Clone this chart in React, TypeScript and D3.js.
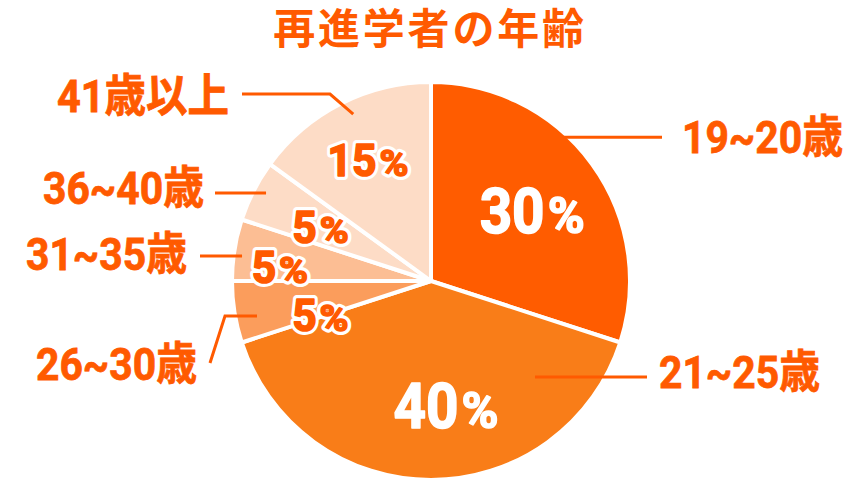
import React from 'react';
import * as d3 from 'd3';

// 再進学者の年齢 (age of re-entering students)
const categories = ['19~20歳', '21~25歳', '26~30歳', '31~35歳', '36~40歳', '41歳以上'];
const values = [30, 40, 5, 5, 5, 15];
const colors = ['#FF5C00', '#F97D18', '#FB9D5C', '#FCBE94', '#FDDCC6', '#FDDCC6'];

const TITLE = '再進学者の年齢';
const ORANGE = '#FF5A00';

const WIDTH = 860;
const HEIGHT = 490;
const CX = 431;
const CY = 281;
const R = 199;

// percent label placement: radius along slice mid angle + nudge
const pctLayout = [
  { r: 125, dx: 0, dy: 3, big: true },
  { r: 124, dx: 15, dy: 0, big: true },
  { r: 112, dx: 0, dy: 16, big: false },
  { r: 153, dx: 0, dy: 9, big: false },
  { r: 124, dx: 0, dy: 2, big: false },
  { r: 139, dx: 0, dy: 2, big: false },
];

// leader lines: start on slice at (angle deg, radius), then points, then label
const leaderLayout = [
  { a: 42.5, r: 195, pts: [[662, null]], lx: 682, ly: 153, anchor: 'start' },
  { a: 132.7, r: 141.5, pts: [[647, null]], lx: 659, ly: 388, anchor: 'start' },
  { a: 258.6, r: 177.5, pts: [[225, null], [210, 363]], lx: 197, ly: 380, anchor: 'end' },
  { a: 277.5, r: 190.6, pts: [[200, null]], lx: 187, ly: 270, anchor: 'end' },
  { a: 298.1, r: 187, pts: [[215, null]], lx: 204, ly: 204, anchor: 'end' },
  { a: 335, r: 184, pts: [[330, 94], [242, 94]], lx: 229, ly: 112, anchor: 'end' },
];

const polar = (angDeg: number, r: number): [number, number] => {
  const a = (angDeg * Math.PI) / 180;
  return [CX + r * Math.sin(a), CY - r * Math.cos(a)];
};

// approximate width of condensed label text
const labelWidth = (s: string) =>
  Array.from(s).reduce((w, c) => w + (/[0-9]/.test(c) ? 23.5 : c === '~' ? 28 : 43), 0) - 4;

const FONT = "Roboto, 'Noto Sans CJK JP', sans-serif";

const App: React.FC = () => {
  const pie = d3.pie<number>().sort(null).startAngle(0).endAngle(2 * Math.PI).value(d => d);
  const arcs = pie(values);
  const arc = d3.arc<d3.PieArcDatum<number>>().innerRadius(0).outerRadius(R);

  return (
    <svg
      width={WIDTH}
      height={HEIGHT}
      style={{ position: 'absolute', left: 0, top: 0, background: '#fff' }}
    >
      <text
        x={430}
        y={44}
        textAnchor="middle"
        fill={ORANGE}
        fontFamily="'Noto Sans CJK JP', sans-serif"
        fontWeight={700}
        fontSize={42}
        letterSpacing={2.8}
      >
        {TITLE}
      </text>

      <g transform={`translate(${CX},${CY})`}>
        {arcs.map((d, i) => (
          <path key={i} d={arc(d) || ''} fill={colors[i]} stroke="#fff" strokeWidth={4} strokeLinejoin="round" />
        ))}
      </g>

      {arcs.map((d, i) => {
        const L = pctLayout[i];
        const mid = ((d.startAngle + d.endAngle) / 2) * (180 / Math.PI);
        const [px, py] = polar(mid, L.r);
        const cx = px + L.dx;
        const cy = py + L.dy;
        const fs = L.big ? 63 : 45;
        const digits = String(values[i]);
        const numW = digits.length * (L.big ? 32.5 : 24.5);
        const pctW = L.big ? 37 : 29;
        const gap = 3;
        const total = numW + gap + pctW;
        const x0 = cx - total / 2;
        const baseline = cy + (L.big ? 22.5 : 16.5);
        const isWhite = i < 2;
        const fill = isWhite ? '#fff' : ORANGE;
        const base = {
          fontFamily: FONT,
          fontWeight: 700,
          lengthAdjust: 'spacingAndGlyphs',
          strokeLinejoin: 'round' as const,
        };
        const parts = [
          { t: digits, x: x0, w: numW, size: fs },
          { t: '%', x: x0 + numW + gap, w: pctW, size: fs * 0.8 },
        ];
        return (
          <g key={i}>
            {!isWhite &&
              parts.map((p, j) => (
                <text key={'o' + j} x={p.x} y={baseline} fontSize={p.size} textLength={p.w}
                  fill="#fff" stroke="#fff" strokeWidth={8} {...base}>
                  {p.t}
                </text>
              ))}
            {parts.map((p, j) => (
              <text key={'f' + j} x={p.x} y={baseline} fontSize={p.size} textLength={p.w}
                fill={fill} stroke={fill} strokeWidth={1.6} {...base}>
                {p.t}
              </text>
            ))}
          </g>
        );
      })}

      {leaderLayout.map((L, i) => {
        const start = polar(L.a, L.r);
        const pts: [number, number][] = [start];
        let prev = start;
        L.pts.forEach(p => {
          const q: [number, number] = [p[0] as number, p[1] == null ? prev[1] : (p[1] as number)];
          pts.push(q);
          prev = q;
        });
        const line = d3.line();
        return (
          <g key={i}>
            <path d={line(pts) || ''} fill="none" stroke={ORANGE} strokeWidth={3} />
            <text
              x={L.lx}
              y={L.ly}
              textAnchor={L.anchor as 'start' | 'end'}
              fill={ORANGE}
              stroke={ORANGE}
              strokeWidth={0.8}
              fontFamily={FONT}
              fontWeight={700}
              fontSize={45}
              textLength={labelWidth(categories[i])}
              lengthAdjust="spacingAndGlyphs"
            >
              {categories[i]}
            </text>
          </g>
        );
      })}
    </svg>
  );
};

export default App;
